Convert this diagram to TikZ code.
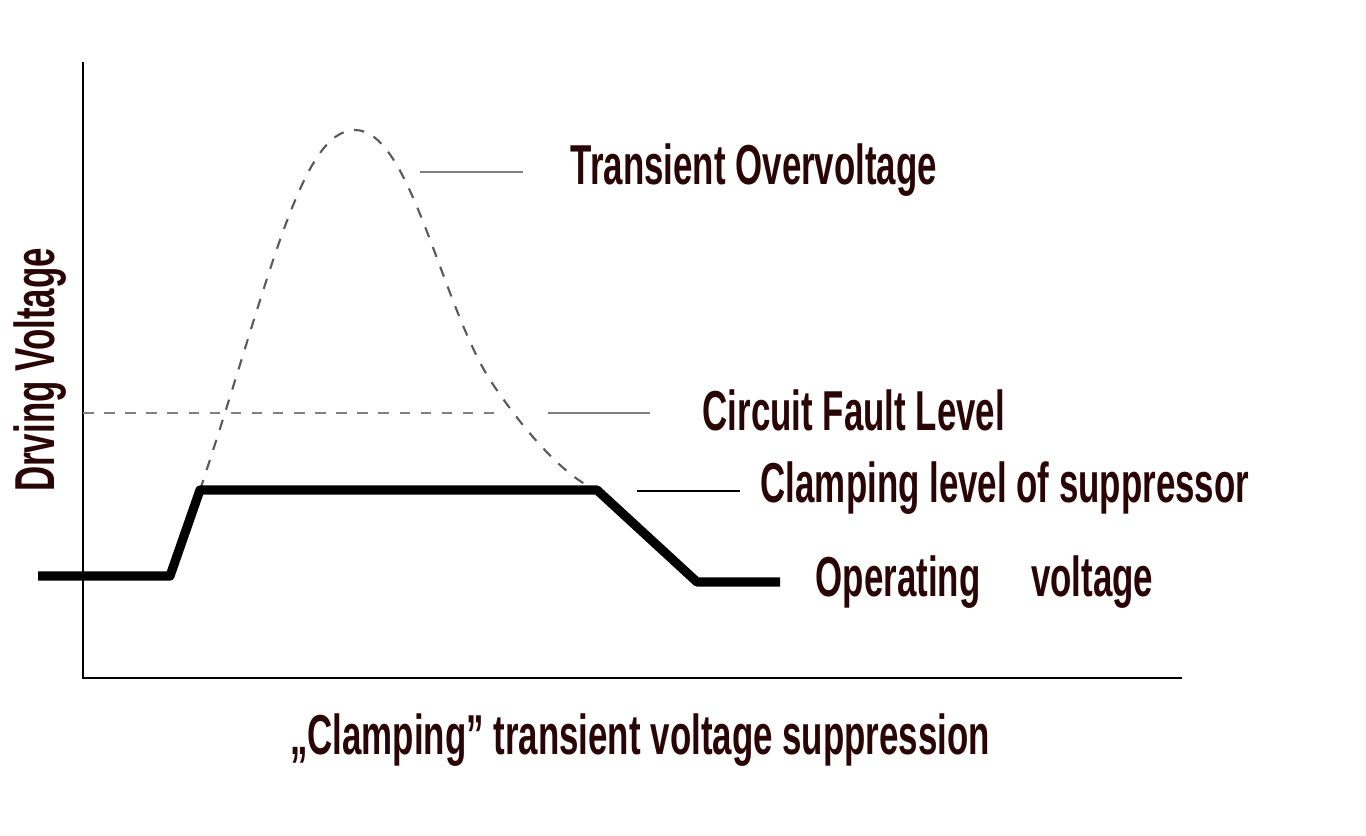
\documentclass[tikz,border=0pt]{standalone}
\usepackage{fontspec}
\setmainfont{Liberation Sans}[FakeStretch=0.62]
\usetikzlibrary{positioning}
\definecolor{labelbrown}{HTML}{2A0505}

\begin{document}
\begin{tikzpicture}[x=0.01cm, y=-0.01cm,
                    lbl/.style={anchor=west, inner sep=0pt, text=labelbrown, font=\fontsize{16}{18}\selectfont\bfseries},
                    lead/.style={gray, line width=0.5pt}]
\useasboundingbox (0,0) rectangle (1366,836);
% axes
\draw[line width=0.6pt] (83,62) -- (83,678) -- (1182,678);
% fault level
\draw[gray, dashed, line width=0.5pt] (83,413) -- (505,413);
% transient overvoltage
\draw[gray!70!black, dashed, line width=0.6pt] (200,490) .. controls (270,280) and (300,130) .. (355,130)
  .. controls (410,130) and (440,300) .. (490,380) .. controls (530,440) and (570,480) .. (597,490);
% clamped voltage
\draw[line width=2.6pt, line join=round] (38,576) -- (170,576) -- (200,490) -- (597,490) -- (697,582) -- (780,582);
% labels
\node (over) [lbl] at (570,170) {Transient Overvoltage};
\node (fault) [lbl] at (702,410) {Circuit Fault Level};
\node (clamp) [lbl] at (760,488) {Clamping level of suppressor};
\node (oper) [lbl] at (815,582) {Operating\hspace{0.9em}voltage};
\coordinate (overl) at (420,172);
\coordinate (faultl) at (548,413);
\coordinate (clampl) at (637,491);
\draw[lead] (overl) -- ++(103,0);
\draw[lead] (faultl) -- ++(102,0);
\draw[lead, black] (clampl) -- ++(103,0);
\node (ylab) [lbl, anchor=center, rotate=90] at (40,370) {Drving Voltage};
\node (title) [lbl, anchor=center] at (640,740) {„Clamping” transient voltage suppression};
\end{tikzpicture}
\end{document}
